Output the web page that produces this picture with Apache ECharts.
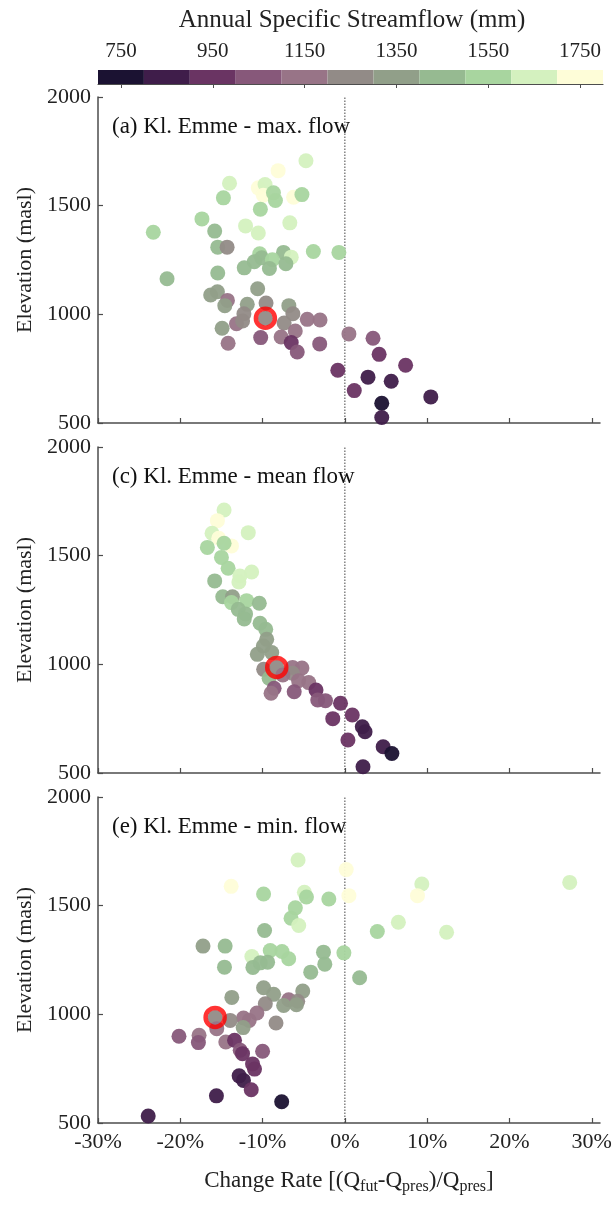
<!DOCTYPE html>
<html>
<head>
<meta charset="utf-8">
<script src="https://cdn.jsdelivr.net/npm/echarts@6/dist/echarts.min.js"></script>
<style>
html,body{margin:0;padding:0;background:#fff;}
#chart{width:616px;height:1205px;}
</style>
</head>
<body>
<div id="chart"></div>
<script>
// ---------------- DATA ----------------
// colour bins of annual specific streamflow (mm)
var binEdges = [700, 800, 900, 1000, 1100, 1200, 1300, 1400, 1500, 1600, 1700, 1800];
var binColors = ['#1b1232', '#3f1d4a', '#6a3463', '#87587a', '#987487', '#928b87',
                 '#919f89', '#96ba91', '#a8d59f', '#d4f1bf', '#fefdd8'];
var colorbarTicks = [750, 950, 1150, 1350, 1550, 1750];
var xTicks = [-30, -20, -10, 0, 10, 20, 30];
var yTicks = [500, 1000, 1500, 2000];

// [change rate %, elevation masl, annual specific streamflow mm]
var maxFlow = [
  [-4.73,1707,1650],[-8.11,1661,1750],[-14.02,1603,1650],[-10.52,1582,1750],[-9.70,1597,1650],
  [-9.91,1548,1750],[-8.68,1559,1550],[-6.24,1539,1750],[-5.22,1551,1550],[-14.76,1536,1550],
  [-8.44,1524,1550],[-10.27,1484,1550],[-17.37,1439,1550],[-12.07,1407,1650],[-6.69,1421,1650],
  [-23.28,1378,1550],[-10.52,1374,1650],[-15.82,1383,1450],[-15.45,1309,1450],[-14.31,1309,1250],
  [-3.83,1289,1550],[-0.73,1285,1550],[-7.46,1285,1450],[-10.35,1279,1550],[-6.52,1263,1650],
  [-10.11,1260,1450],[-8.81,1251,1550],[-11.01,1242,1450],[-7.17,1233,1450],[-12.23,1214,1450],
  [-9.17,1211,1450],[-15.45,1190,1450],[-21.61,1164,1450],[-10.60,1118,1350],[-16.31,1089,1350],
  [-15.49,1104,1350],[-14.27,1064,1150],[-14.59,1040,1350],[-11.86,1046,1350],[-9.58,1052,1250],
  [-6.81,1040,1350],[-12.27,1003,1250],[-6.32,1003,1250],[-13.17,957,1150],[-12.43,969,1250],
  [-9.66,982,1250],[-4.57,977,1150],[-3.02,974,1150],[-7.38,960,1250],[-6.03,923,1150],
  [-14.92,936,1350],[-7.75,896,1150],[-10.23,893,1050],[-14.19,867,1150],[-6.52,870,950],
  [-5.79,827,1050],[-3.06,864,1050],[0.49,910,1150],[3.42,890,1050],[4.16,816,950],
  [7.38,766,950],[-0.86,743,950],[2.81,711,850],[5.63,692,850],[1.14,649,950],
  [4.48,591,750],[10.44,620,850],[4.48,525,850]
];
var meanFlow = [
  [-14.68,1710,1650],[-15.49,1661,1750],[-16.14,1603,1650],[-11.74,1606,1650],[-15.33,1580,1750],
  [-13.78,1545,1750],[-14.68,1557,1550],[-16.71,1538,1550],[-15.00,1492,1550],[-14.19,1442,1550],
  [-12.76,1407,1650],[-11.33,1425,1650],[-12.88,1379,1650],[-15.82,1384,1450],[-14.84,1311,1450],
  [-13.66,1311,1350],[-11.94,1293,1550],[-13.78,1284,1550],[-10.40,1281,1450],[-12.96,1253,1450],
  [-12.07,1232,1450],[-12.23,1209,1450],[-10.31,1189,1450],[-9.62,1161,1450],[-9.50,1115,1350],
  [-9.91,1084,1350],[-10.64,1046,1350],[-8.89,1054,1350],[-9.87,977,1250],[-9.21,936,1450],
  [-6.36,986,1150],[-5.22,983,1150],[-8.28,986,1250],[-6.36,959,1250],[-7.54,951,1150],
  [-4.40,916,1150],[-5.63,925,1150],[-8.60,890,1050],[-8.97,867,1150],[-6.16,874,1050],
  [-3.51,882,950],[-3.30,836,1050],[-2.36,833,1050],[-0.53,821,950],[0.90,767,950],
  [-1.47,750,950],[2.12,713,850],[2.45,690,850],[0.37,652,950],[4.65,621,850],
  [5.71,590,750],[2.20,529,850]
];
var minFlow = [
  [-5.69,1710,1650],[0.16,1666,1750],[-13.82,1589,1750],[-9.88,1554,1550],[-4.92,1562,1650],
  [-4.67,1540,1550],[-1.95,1531,1550],[0.49,1546,1750],[9.35,1600,1650],[8.82,1546,1750],
  [27.32,1607,1650],[-6.02,1490,1550],[-6.54,1442,1550],[-5.61,1409,1650],[-9.76,1386,1450],
  [3.94,1381,1550],[6.50,1424,1650],[12.36,1378,1650],[-17.24,1314,1350],[-14.55,1314,1450],
  [-14.63,1217,1450],[-11.30,1266,1650],[-9.07,1294,1550],[-7.64,1289,1550],[-6.83,1256,1550],
  [-11.18,1216,1450],[-10.28,1237,1450],[-9.39,1240,1450],[-2.60,1286,1450],[-0.12,1283,1550],
  [-2.44,1231,1450],[-4.15,1194,1450],[1.79,1168,1450],[-13.74,1078,1350],[-9.88,1122,1350],
  [-8.66,1092,1350],[-5.12,1107,1350],[-6.83,1067,1150],[-5.73,1060,1250],[-7.44,1041,1350],
  [-5.89,1044,1350],[-9.67,1049,1250],[-10.69,1006,1150],[-12.32,983,1150],[-11.63,972,1150],
  [-8.37,960,1250],[-13.94,972,1250],[-15.77,986,1250],[-12.36,939,1350],[-20.16,899,1050],
  [-17.72,904,1150],[-17.80,870,1050],[-15.57,934,1150],[-14.47,873,1150],[-13.41,881,950],
  [-12.72,835,1050],[-12.44,819,950],[-10.00,830,1050],[-11.22,772,950],[-10.98,748,950],
  [-12.85,717,850],[-12.32,696,850],[-11.38,653,950],[-15.61,625,850],[-7.68,598,750],
  [-23.90,532,850]
];
// highlighted catchment (red ring) in each panel
var highlight = [[-9.66, 982], [-8.28, 986], [-15.77, 986]];
var panelTitles = ['(a) Kl. Emme - max. flow', '(c) Kl. Emme - mean flow', '(e) Kl. Emme - min. flow'];
var zeroLine = [[0, 500], [0, 2000]];

// ---------------- LAYOUT ----------------
var FONT = 'Liberation Serif';
var gridLeft = 98, gridWidth = 502, gridHeight = 326;
var gridTops = [97, 447, 797];
var axisColor = '#4d4d4d';
function plain(v) { return String(v); }

var panels = [maxFlow, meanFlow, minFlow];
var grids = [], xAxes = [], yAxes = [], series = [], graphics = [];

panels.forEach(function (data, i) {
  grids.push({left: gridLeft, top: gridTops[i], width: gridWidth, height: gridHeight, containLabel: false});
  xAxes.push({
    type: 'value', gridIndex: i, min: -30, max: 31,
    axisLine: {show: true, onZero: false, lineStyle: {color: axisColor, width: 1.5}},
    axisTick: {show: true, inside: true, length: 5, customValues: xTicks, lineStyle: {color: axisColor, width: 1.2}},
    axisLabel: {show: i === 2, customValues: xTicks, formatter: function (v) { return v + '%'; },
      fontFamily: FONT, fontSize: 22, color: '#222', margin: 8},
    splitLine: {show: false}
  });
  yAxes.push({
    type: 'value', gridIndex: i, min: 500, max: 2000, interval: 500,
    name: 'Elevation (masl)', nameLocation: 'middle', nameGap: 56, nameRotate: 90,
    nameTextStyle: {fontFamily: FONT, fontSize: 22, color: '#222'},
    axisLine: {show: true, onZero: false, lineStyle: {color: axisColor, width: 1.5}},
    axisTick: {show: true, inside: true, length: 5, customValues: yTicks, lineStyle: {color: axisColor, width: 1.2}},
    axisLabel: {customValues: yTicks, formatter: plain, fontFamily: FONT, fontSize: 22, color: '#222', margin: 7},
    splitLine: {show: false}
  });
  series.push({
    type: 'line', xAxisIndex: i, yAxisIndex: i, data: zeroLine, symbol: 'none', silent: true,
    lineStyle: {color: '#444', width: 1, type: [1.5, 1.5]}, z: 1
  });
  series.push({
    type: 'scatter', xAxisIndex: i, yAxisIndex: i, data: data, symbolSize: 15,
    itemStyle: {opacity: 0.95}, z: 2
  });
  series.push({
    type: 'scatter', xAxisIndex: i, yAxisIndex: i, data: [highlight[i]], symbolSize: 19,
    itemStyle: {color: 'rgba(0,0,0,0)', borderColor: '#ff0000', borderWidth: 4.5}, z: 5
  });
  graphics.push({
    type: 'text', left: 112, top: gridTops[i] + 18,
    style: {text: panelTitles[i], fontFamily: FONT, fontSize: 23, fill: '#111'}
  });
});

// colour bar grid (index 3)
var cbIndex = 3;
grids.push({left: gridLeft, top: 70, width: 505, height: 14});
xAxes.push({
  type: 'value', gridIndex: cbIndex, min: binEdges[0], max: binEdges[binEdges.length - 1], position: 'top',
  axisLine: {show: true, lineStyle: {color: axisColor, width: 1.2}},
  axisTick: {show: true, inside: true, length: 4, customValues: colorbarTicks, lineStyle: {color: axisColor}},
  axisLabel: {customValues: colorbarTicks, formatter: plain, fontFamily: FONT, fontSize: 21, color: '#222', margin: 8},
  splitLine: {show: false}
});
yAxes.push({type: 'value', gridIndex: cbIndex, min: 0, max: 1, show: false});
var binData = binColors.map(function (c, k) { return [binEdges[k], binEdges[k + 1], k]; });
series.push({
  type: 'custom', xAxisIndex: cbIndex, yAxisIndex: cbIndex, data: binData, silent: true, z: 1,
  renderItem: function (params, api) {
    var p0 = api.coord([api.value(0), 1]);
    var p1 = api.coord([api.value(1), 0]);
    return {type: 'rect', shape: {x: p0[0], y: p0[1], width: p1[0] - p0[0], height: p1[1] - p0[1]},
      style: {fill: binColors[api.value(2)]}};
  }
});

graphics.push({
  type: 'text', x: 352, y: 20,
  style: {text: 'Annual Specific Streamflow (mm)', fontFamily: FONT, fontSize: 25, fill: '#222',
    align: 'center', verticalAlign: 'middle'}
});
graphics.push({
  type: 'text', x: 349, y: 1182,
  style: {
    text: '{n|Change Rate [(Q}{s|fut}{n|-Q}{s|pres}{n|)/Q}{s|pres}{n|]}',
    align: 'center', verticalAlign: 'middle',
    rich: {
      n: {fontFamily: FONT, fontSize: 23, fill: '#222', lineHeight: 26, verticalAlign: 'top'},
      s: {fontFamily: FONT, fontSize: 16, fill: '#222', lineHeight: 16, padding: [16, 0, 0, 0], verticalAlign: 'bottom'}
    }
  }
});

var pieces = binColors.map(function (c, k) { return {gte: binEdges[k], lt: binEdges[k + 1], color: c}; });

var option = {
  backgroundColor: '#fff',
  animation: false,
  grid: grids,
  xAxis: xAxes,
  yAxis: yAxes,
  visualMap: {type: 'piecewise', show: false, dimension: 2, seriesIndex: [1, 4, 7], pieces: pieces},
  series: series,
  graphic: graphics
};

var chart = echarts.init(document.getElementById('chart'), null, {renderer: 'canvas'});
chart.setOption(option);
</script>
</body>
</html>
